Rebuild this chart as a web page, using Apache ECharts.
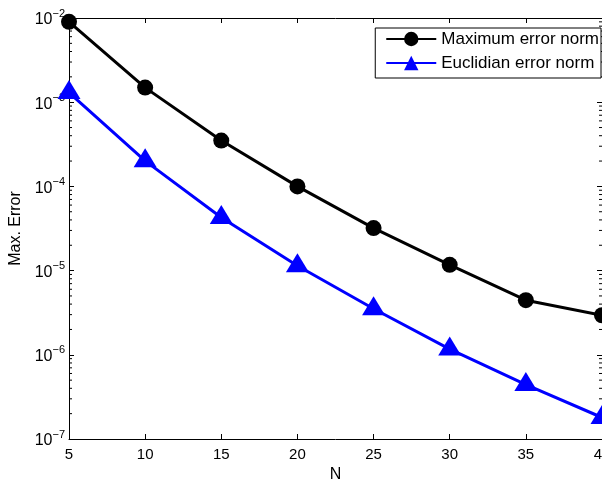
<!DOCTYPE html>
<html>
<head>
<meta charset="utf-8">
<script src="https://cdn.jsdelivr.net/npm/echarts@6/dist/echarts.min.js"></script>
<style>
  html, body { margin: 0; padding: 0; background: #fff; }
  #chart { width: 602px; height: 482px; }
</style>
</head>
<body>
<div id="chart"></div>
<script>
// data
var nValues = [5, 10, 15, 20, 25, 30, 35, 40];
var maxErr = [9.0e-3, 1.49e-3, 3.5e-4, 1.0e-4, 3.2e-5, 1.17e-5, 4.45e-6, 2.95e-6];
var euclErr = [1.30e-3, 2.01e-4, 4.28e-5, 1.14e-5, 3.52e-6, 1.17e-6, 4.43e-7, 1.8e-7];
var decades = [-7, -6, -5, -4, -3];
var minorMult = [2, 3, 4, 5, 6, 7, 8, 9];

var font = 'Liberation Sans, Arial, Helvetica, sans-serif';

var minorTicks = [];
decades.forEach(function (d) {
    minorMult.forEach(function (m) {
        minorTicks.push([m * Math.pow(10, d)]);
    });
});

var chart = echarts.init(document.getElementById('chart'));

var option = {
    animation: false,
    backgroundColor: '#fff',
    grid: {left: 69, right: 0, top: 18, bottom: 43, outerBoundsMode: 'none', containLabel: false},
    legend: {
        orient: 'vertical',
        right: 1,
        top: 28,
        padding: [1, 2, 5, 10],
        itemGap: 4,
        itemWidth: 50,
        itemHeight: 18,
        backgroundColor: '#fff',
        borderColor: '#000',
        borderWidth: 1,
        borderRadius: 0,
        textStyle: {fontFamily: font, fontSize: 17, color: '#000', lineHeight: 20},
        data: ['Maximum error norm', 'Euclidian error norm']
    },
    xAxis: [{
        type: 'value',
        min: 5,
        max: 40,
        interval: 5,
        name: 'N',
        nameLocation: 'middle',
        nameGap: 24,
        nameTextStyle: {fontFamily: font, fontSize: 16, color: '#000'},
        axisLine: {lineStyle: {color: '#000', width: 1}},
        axisTick: {inside: true, length: 5, lineStyle: {color: '#000'}},
        axisLabel: {fontFamily: font, fontSize: 15, color: '#000', margin: 8},
        splitLine: {show: false}
    }, {
        type: 'value',
        position: 'top',
        min: 5,
        max: 40,
        interval: 5,
        axisLine: {lineStyle: {color: '#000', width: 1}},
        axisTick: {inside: true, length: 5, lineStyle: {color: '#000'}},
        axisLabel: {show: false},
        splitLine: {show: false}
    }],
    yAxis: [{
        type: 'log',
        logBase: 10,
        min: 1e-7,
        max: 1e-2,
        name: 'Max. Error',
        nameLocation: 'middle',
        nameGap: 42,
        nameTextStyle: {fontFamily: font, fontSize: 16, color: '#000'},
        axisLine: {show: true, lineStyle: {color: '#000', width: 1}},
        axisTick: {inside: true, length: 5, lineStyle: {color: '#000'}},
        axisLabel: {
            margin: 4,
            formatter: function (v) {
                var e = Math.round(Math.log(v) / Math.LN10);
                return '{b|10}{s|\u2212' + Math.abs(e) + '}';
            },
            rich: {
                b: {fontFamily: font, fontSize: 16, color: '#000', padding: [4, 0, 0, 0]},
                s: {fontFamily: font, fontSize: 11, color: '#000', padding: [0, 0, 9, 0]}
            }
        },
        splitLine: {show: false}
    }, {
        type: 'log',
        logBase: 10,
        min: 1e-7,
        max: 1e-2,
        position: 'right',
        axisLine: {show: true, lineStyle: {color: '#000', width: 1}},
        axisTick: {inside: true, length: 5, lineStyle: {color: '#000'}},
        axisLabel: {show: false},
        splitLine: {show: false}
    }],
    series: [{
        name: 'Maximum error norm',
        type: 'line',
        data: nValues.map(function (n, i) { return [n, maxErr[i]]; }),
        symbol: 'circle',
        symbolSize: 16,
        itemStyle: {color: '#000'},
        lineStyle: {color: '#000', width: 3},
        clip: false,
        z: 3
    }, {
        name: 'Euclidian error norm',
        type: 'line',
        data: nValues.map(function (n, i) { return [n, euclErr[i]]; }),
        symbol: 'triangle',
        symbolSize: [23, 19],
        symbolOffset: [0, -3],
        itemStyle: {color: '#0000ff'},
        lineStyle: {color: '#0000ff', width: 3},
        clip: false,
        z: 3
    }, {
        type: 'custom',
        silent: true,
        data: minorTicks,
        encode: {y: 0},
        clip: false,
        z: 1,
        renderItem: function (params, api) {
            var v = api.value(0);
            var p = api.coord([5, v]);
            var q = api.coord([40, v]);
            var st = {stroke: '#000', lineWidth: 1};
            return {
                type: 'group',
                children: [
                    {type: 'line', shape: {x1: p[0], y1: p[1], x2: p[0] + 3, y2: p[1]}, style: st},
                    {type: 'line', shape: {x1: q[0] - 3, y1: q[1], x2: q[0], y2: q[1]}, style: st}
                ]
            };
        }
    }]
};

chart.setOption(option);
</script>
</body>
</html>
